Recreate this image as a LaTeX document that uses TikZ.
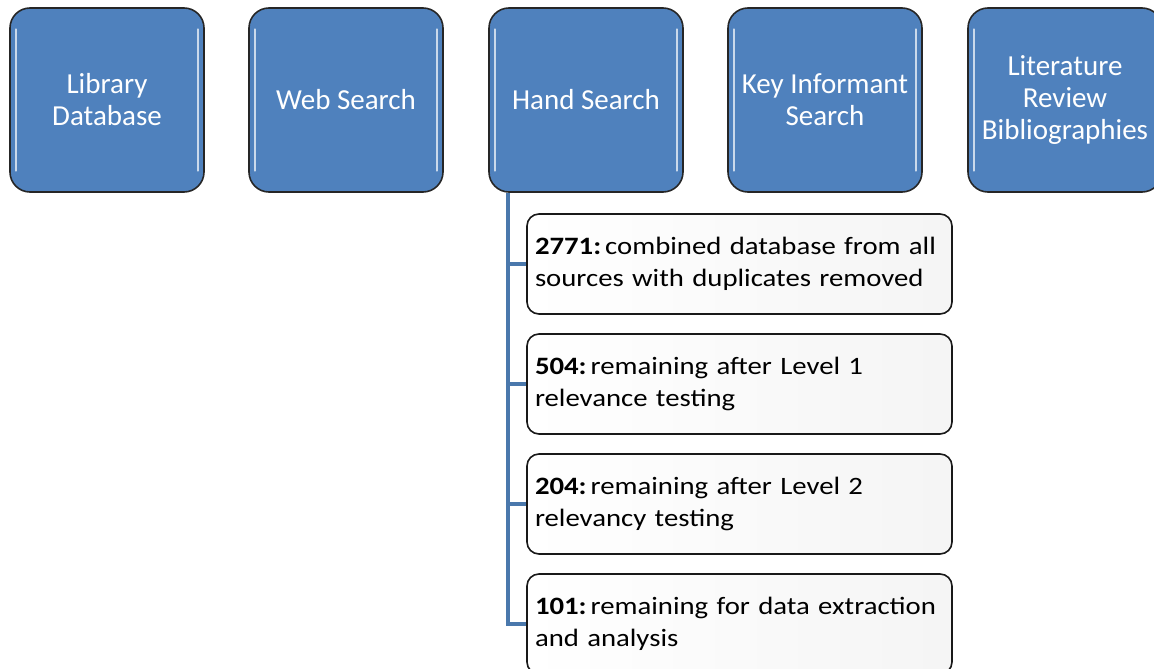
\documentclass[tikz,border=0pt]{standalone}
\usepackage{fontspec}
\setmainfont{Carlito}
\newfontfamily\stagefont{Carlito}[FakeStretch=1.15]
\usepackage{xcolor}
\usetikzlibrary{positioning,calc}

\definecolor{srcblue}{HTML}{4F81BD}
\definecolor{linkblue}{HTML}{4A78AC}

\newcommand{\stagenum}[1]{\textbf{#1:}\hspace{4pt}\ignorespaces}

\tikzset{
  srcbox/.style={draw=black!85, line width=1.6pt, fill=srcblue, rounded corners=20pt,
    minimum width=194pt, minimum height=184pt, align=center, text=white,
    font=\fontsize{29}{32}\selectfont, inner sep=2pt},
  stagebox/.style={draw=black!90, line width=1.6pt, left color=white, right color=black!4,
    rounded corners=12pt, minimum width=425pt, minimum height=100pt, text width=409pt,
    align=left, font=\stagefont\fontsize{25}{32}\selectfont, inner xsep=8pt},
  link/.style={draw=linkblue, line width=3.5pt},
  gloss/.style={draw=white!70!srcblue, line width=1.8pt, line cap=round}
}

\begin{document}
\begin{tikzpicture}[x=1pt, y=-1pt]
  \useasboundingbox (0,0) rectangle (1154,669);

  % Sources
  \node[srcbox] (lib) at (107,100) {Library\\Database};
  \node[srcbox] (web) at (346,100) {Web Search};
  \node[srcbox] (hand) at (586,100) {Hand Search};
  \node[srcbox] (key) at (825,100) {Key Informant\\Search};
  \node[srcbox] (lit) at (1065,100) {Literature\\Review\\Bibliographies};

  % Gloss highlights
  \foreach \n in {lib,web,hand,key,lit} {
    \draw[gloss] ([xshift=7pt,yshift=-22pt]\n.north west) -- ([xshift=7pt,yshift=22pt]\n.south west);
    \draw[gloss] ([xshift=-7pt,yshift=-22pt]\n.north east) -- ([xshift=-7pt,yshift=22pt]\n.south east);
  }

  % Stages
  \node[stagebox] (s1) at (739.5,264) {\mbox{\stagenum{2771} combined database from all}\\\mbox{sources with duplicates removed}};
  \node[stagebox] (s2) at (739.5,384) {\mbox{\stagenum{504} remaining after Level 1}\\\mbox{relevance testing}};
  \node[stagebox] (s3) at (739.5,504) {\mbox{\stagenum{204} remaining after Level 2}\\\mbox{relevancy testing}};
  \node[stagebox] (s4) at (739.5,624) {\mbox{\stagenum{101} remaining for data extraction}\\\mbox{and analysis}};

  % Connectors
  \coordinate (trunk) at ([xshift=20pt]hand.south west);
  \foreach \s in {s1,s2,s3,s4}
    \draw[link] (trunk) |- (\s.west);
\end{tikzpicture}
\end{document}
